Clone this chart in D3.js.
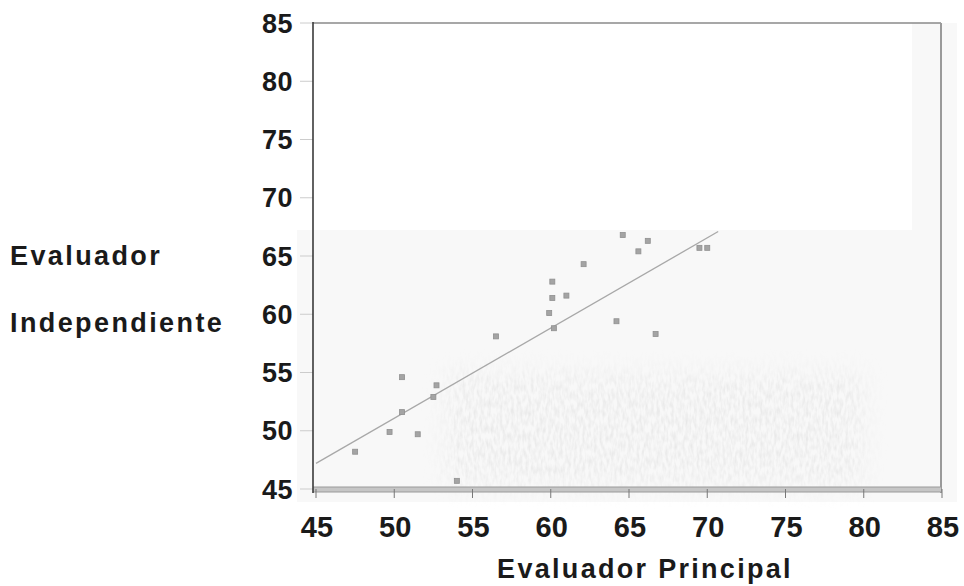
<!DOCTYPE html>
<html><head><meta charset="utf-8">
<script src="https://cdn.jsdelivr.net/npm/d3@7"></script>
<style>
html,body{margin:0;padding:0;background:#fff;}
text{font-family:"Liberation Sans",Arial,sans-serif;font-weight:bold;fill:#1a1a1a;}
</style></head>
<body><svg id="c" width="964" height="586"></svg>
<script>
// Data
const evalPrincipal = [47.5,49.7,50.5,50.5,51.5,52.5,52.7,54.0,56.5,59.9,60.1,60.1,60.2,61.0,62.1,64.2,64.6,65.6,66.2,66.7,69.5,70.0];
const evalIndependiente = [48.2,49.9,54.6,51.6,49.7,52.9,53.9,45.7,58.1,60.1,62.8,61.4,58.8,61.6,64.3,59.4,66.8,65.4,66.3,58.3,65.7,65.7];
const trendX = [45.0, 70.7];
const trendY = [47.2, 67.1];
const xTicks = [45,50,55,60,65,70,75,80,85];
const yTicks = [45,50,55,60,65,70,75,80,85];
const xTitle = "Evaluador Principal";
const yTitleLines = ["Evaluador","Independiente"];

const svg = d3.select("#c");
const x = d3.scaleLinear().domain([45,85]).range([316,942]);
const y = d3.scaleLinear().domain([45,85]).range([489,23]);

// scan-like tinted background
const defs = svg.append("defs");
const f = defs.append("filter").attr("id","speck").attr("x","-10%").attr("y","-20%").attr("width","120%").attr("height","140%");
f.append("feTurbulence").attr("type","fractalNoise").attr("baseFrequency","0.35 0.12").attr("numOctaves",2).attr("seed",3).attr("result","noise");
f.append("feColorMatrix").attr("in","noise").attr("type","matrix")
  .attr("values","0 0 0 0 0.55  0 0 0 0 0.55  0 0 0 0 0.55  0 0 0 -1.6 1.05").attr("result","cn");
f.append("feGaussianBlur").attr("in","SourceGraphic").attr("stdDeviation",12).attr("result","shape");
f.append("feComposite").attr("in","cn").attr("in2","shape").attr("operator","in");

svg.append("rect").attr("x",297).attr("y",230).attr("width",660).attr("height",272).attr("fill","#f8f8f8");
svg.append("rect").attr("x",912).attr("y",23).attr("width",45).attr("height",207).attr("fill","#f8f8f8");
svg.append("rect").attr("x",445).attr("y",372).attr("width",420).attr("height",114).attr("fill","#000").attr("opacity",0.35).attr("filter","url(#speck)");

// y ticks (faint)
svg.append("g").selectAll("line").data(yTicks).join("line")
  .attr("x1",300).attr("x2",313).attr("y1",d=>y(d)).attr("y2",d=>y(d))
  .attr("stroke","#cccccc").attr("stroke-width",1);

// frame
svg.append("line").attr("x1",313).attr("x2",941).attr("y1",23).attr("y2",23).attr("stroke","#8a8a8a").attr("stroke-width",1.5);
svg.append("line").attr("x1",941).attr("x2",941).attr("y1",23).attr("y2",493).attr("stroke","#9a9a9a").attr("stroke-width",2);
// bottom band
svg.append("rect").attr("x",313).attr("y",487).attr("width",628).attr("height",5).attr("fill","#c6c6c6");
svg.append("line").attr("x1",313).attr("x2",941).attr("y1",487).attr("y2",487).attr("stroke","#9a9a9a");
svg.append("line").attr("x1",313).attr("x2",941).attr("y1",492).attr("y2",492).attr("stroke","#9a9a9a");
// x ticks
svg.append("g").selectAll("line").data(xTicks).join("line")
  .attr("x1",d=>x(d)).attr("x2",d=>x(d)).attr("y1",489).attr("y2",498)
  .attr("stroke","#777").attr("stroke-width",1);
// left axis
svg.append("line").attr("x1",313).attr("x2",313).attr("y1",22).attr("y2",493).attr("stroke","#3a3a3a").attr("stroke-width",1.6);

// trend line
svg.append("line")
  .attr("x1",x(trendX[0])).attr("y1",y(trendY[0]))
  .attr("x2",x(trendX[1])).attr("y2",y(trendY[1]))
  .attr("stroke","#a8a8a8").attr("stroke-width",1.3);

// points
svg.append("g").selectAll("rect").data(evalPrincipal.map((v,i)=>[v,evalIndependiente[i]])).join("rect")
  .attr("x",d=>x(d[0])-2.5).attr("y",d=>y(d[1])-2.5).attr("width",5).attr("height",5)
  .attr("fill","#a4a4a4").attr("stroke","#909090").attr("stroke-width",0.8);

// tick labels
svg.append("g").selectAll("text").data(yTicks).join("text")
  .attr("x",293).attr("y",d=>y(d)+9.5).attr("text-anchor","end")
  .attr("font-size",27).attr("letter-spacing",0.5).text(d=>d);
svg.append("g").selectAll("text").data(xTicks).join("text")
  .attr("x",d=>x(d)+1).attr("y",537).attr("text-anchor","middle")
  .attr("font-size",29).text(d=>d);

// titles
svg.append("text").attr("x",645).attr("y",578).attr("text-anchor","middle")
  .attr("font-size",27).attr("letter-spacing",2.3).text(xTitle);
svg.selectAll("text.yt").data(yTitleLines).join("text").attr("class","yt")
  .attr("x",10).attr("y",(d,i)=>265+i*67)
  .attr("font-size",27).attr("letter-spacing",2.4).text(d=>d);
</script></body></html>
